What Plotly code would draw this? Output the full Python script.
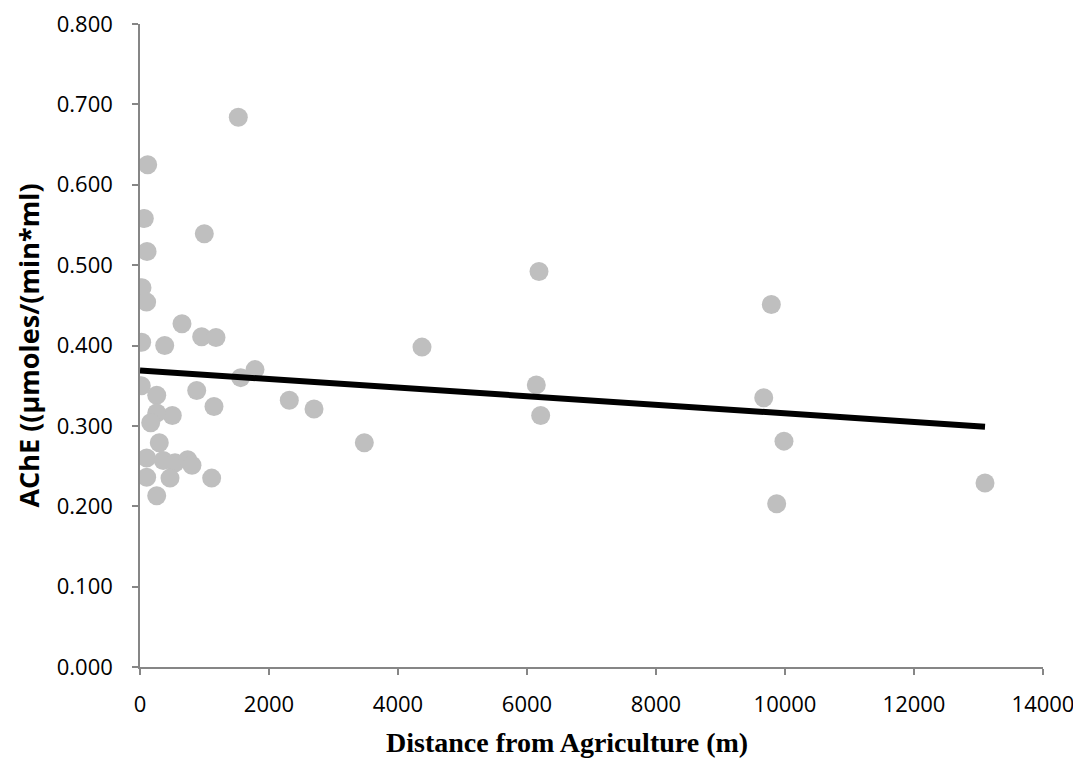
import plotly.graph_objects as go

distance_m = [119, 67, 997, 109, 31, 103, 651, 26, 383, 956, 1178, 1783, 1561, 20,
              259, 879, 2315, 2698, 1147, 501, 259, 166, 299, 103, 361, 543, 739,
              806, 103, 465, 1111, 259,
              1524, 6186, 4372, 6144, 6212, 3478,
              9788, 9670, 9984, 9871, 13101]
ache = [0.625, 0.558, 0.539, 0.517, 0.472, 0.454, 0.427, 0.404, 0.400, 0.411, 0.410,
        0.370, 0.360, 0.350, 0.338, 0.344, 0.332, 0.321, 0.324, 0.313, 0.316, 0.304,
        0.279, 0.260, 0.257, 0.254, 0.258, 0.251, 0.236, 0.235, 0.235, 0.213,
        0.684, 0.492, 0.398, 0.351, 0.313, 0.279,
        0.451, 0.335, 0.281, 0.203, 0.229]

trend_x = [0, 13101]
trend_y = [0.369, 0.299]

x_ticks = [0, 2000, 4000, 6000, 8000, 10000, 12000, 14000]
y_ticks = [0.0, 0.1, 0.2, 0.3, 0.4, 0.5, 0.6, 0.7, 0.8]

fig = go.Figure()
fig.add_trace(go.Scatter(
    x=distance_m, y=ache, mode="markers",
    marker=dict(size=19, color="#BFBFBF", line=dict(width=0)),
    showlegend=False, hoverinfo="x+y"))
fig.add_trace(go.Scatter(
    x=trend_x, y=trend_y, mode="lines",
    line=dict(color="black", width=6),
    showlegend=False))

axis_common = dict(showgrid=False, zeroline=False, showline=True,
                   linecolor="#868686", linewidth=1.5,
                   ticks="outside", tickcolor="#868686", ticklen=6, tickwidth=1.5,
                   ticklabeloverflow="allow", automargin=False)

fig.update_xaxes(range=[0, 14000], tickvals=x_ticks,
                 ticktext=[str(v) for v in x_ticks],
                 tickfont=dict(family="Open Sans, Arial", size=22, color="black"),
                 ticklabelstandoff=11,
                 **axis_common)
fig.update_yaxes(range=[0, 0.8], tickvals=y_ticks,
                 ticktext=[f"{v:.3f}" for v in y_ticks],
                 tickfont=dict(family="Open Sans, Arial", size=22, color="black"),
                 ticklabelstandoff=15,
                 title=dict(text="<b>AChE ((µmoles/(min*ml)</b>",
                            font=dict(family="Open Sans, Arial", size=27, color="black"),
                            standoff=9),
                 **axis_common)

fig.add_annotation(text="<b>Distance from Agriculture (m)</b>",
                   xref="paper", yref="paper", x=0.473, y=-0.118,
                   xanchor="center", yanchor="middle", showarrow=False,
                   font=dict(family="Liberation Serif, Times New Roman, serif", size=28, color="black"))

fig.update_layout(width=1081, height=774,
                  margin=dict(l=132, r=46, t=16, b=115),
                  plot_bgcolor="white", paper_bgcolor="white")

fig.write_html("out.html")
